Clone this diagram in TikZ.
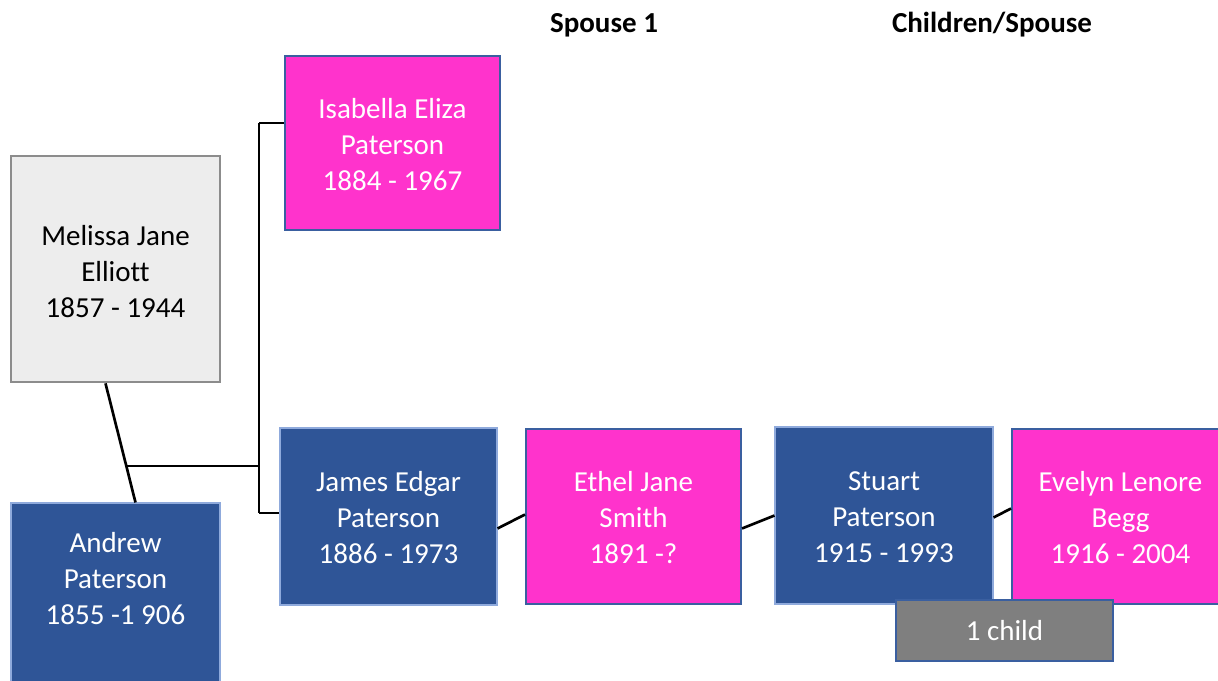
\documentclass[tikz,border=0pt]{standalone}
\usepackage{fontspec}
\setmainfont{Carlito}[Ligatures=NoCommon]
\usetikzlibrary{calc}
\definecolor{pblue}{RGB}{47,85,151}
\definecolor{ppink}{RGB}{255,51,204}
\definecolor{pborder}{RGB}{58,95,160}
\definecolor{lborder}{RGB}{143,170,220}
\definecolor{gfill}{RGB}{237,237,237}
\definecolor{gborder}{RGB}{140,140,140}
\definecolor{cfill}{RGB}{127,127,127}
\newcommand\topstrut{\rule{0pt}{16.8pt}}
\begin{document}
\begin{tikzpicture}[x=0.75pt,y=-0.75pt,
  person/.style 2 args={rectangle, inner sep=0pt, align=center,
    minimum width=#1*0.75pt, minimum height=#2*0.75pt,
    font=\fontsize{21.75pt}{27pt}\selectfont},
  man/.style={draw=lborder, line width=0.8pt, fill=pblue, text=white},
  woman/.style={draw=pborder, line width=1.5pt, fill=ppink, text=white},
  grey/.style={draw=gborder, line width=2pt, fill=gfill, text=black},
  childbox/.style={draw=pborder, line width=1.5pt, fill=cfill, text=white},
  head/.style={font=\fontsize{21.75pt}{27pt}\selectfont\bfseries},
  link/.style={draw=black, line width=2pt}]
\useasboundingbox (0,0) rectangle (1218,681);
% headers
\node[head] (h1) at (604,25) {Spouse 1};
\node[head] (h2) at (992,25) {Children/Spouse};
% boxes
\node[person={209}{226}, grey] (mel) at (115.5,269) {\rule{0pt}{19.5pt}Melissa Jane\\Elliott\\1857 - 1944};
\node[person={209}{200}, man] (and) at (115.5,603) {};
\node[person={209}{20}, text=white] (andtxt) at (115.5,578.5) {Andrew\\Paterson\\1855 -1 906};
\node[person={215}{174}, woman] (isa) at (392.5,143) {\topstrut Isabella Eliza\\Paterson\\1884 - 1967};
\node[person={217}{177}, man] (jam) at (388.5,516.5) {\topstrut James Edgar\\Paterson\\1886 - 1973};
\node[person={215}{175}, woman] (eth) at (633.5,516.5) {\topstrut Ethel Jane\\Smith\\1891 -?};
\node[person={218}{177}, man] (stu) at (884,515.5) {\topstrut Stuart\\Paterson\\1915 - 1993};
\node[person={217}{175}, woman] (eve) at (1120.5,516.5) {\topstrut Evelyn Lenore\\Begg\\1916 - 2004};
% connectors
\coordinate (m1) at ($(mel.south)+(-10,0)$);
\coordinate (a1) at ($(and.north)+(20,0)$);
\coordinate (mid) at (126,466);
\coordinate (vtop) at (259,123);
\coordinate (vbot) at (259,513);
\coordinate (vmid) at (259,466);
\draw[link] (m1) -- (a1);
\draw[link] (mid) -- (vmid);
\draw[link] (vtop) -- (vbot);
\draw[link] (vtop) -- (isa.west |- vtop);
\draw[link] (vbot) -- (jam.west |- vbot);
\draw[link] ($(jam.east)+(0,12)$) -- ($(eth.west)+(0,-2)$);
\draw[link] ($(eth.east)+(0,12)$) -- ($(stu.west)+(0,0)$);
\draw[link] ($(stu.east)+(0,2)$) -- ($(eve.west)+(0,-8)$);
\node[person={217}{61}, childbox] (child) at (1004.5,630.5) {1 child};
\end{tikzpicture}
\end{document}
